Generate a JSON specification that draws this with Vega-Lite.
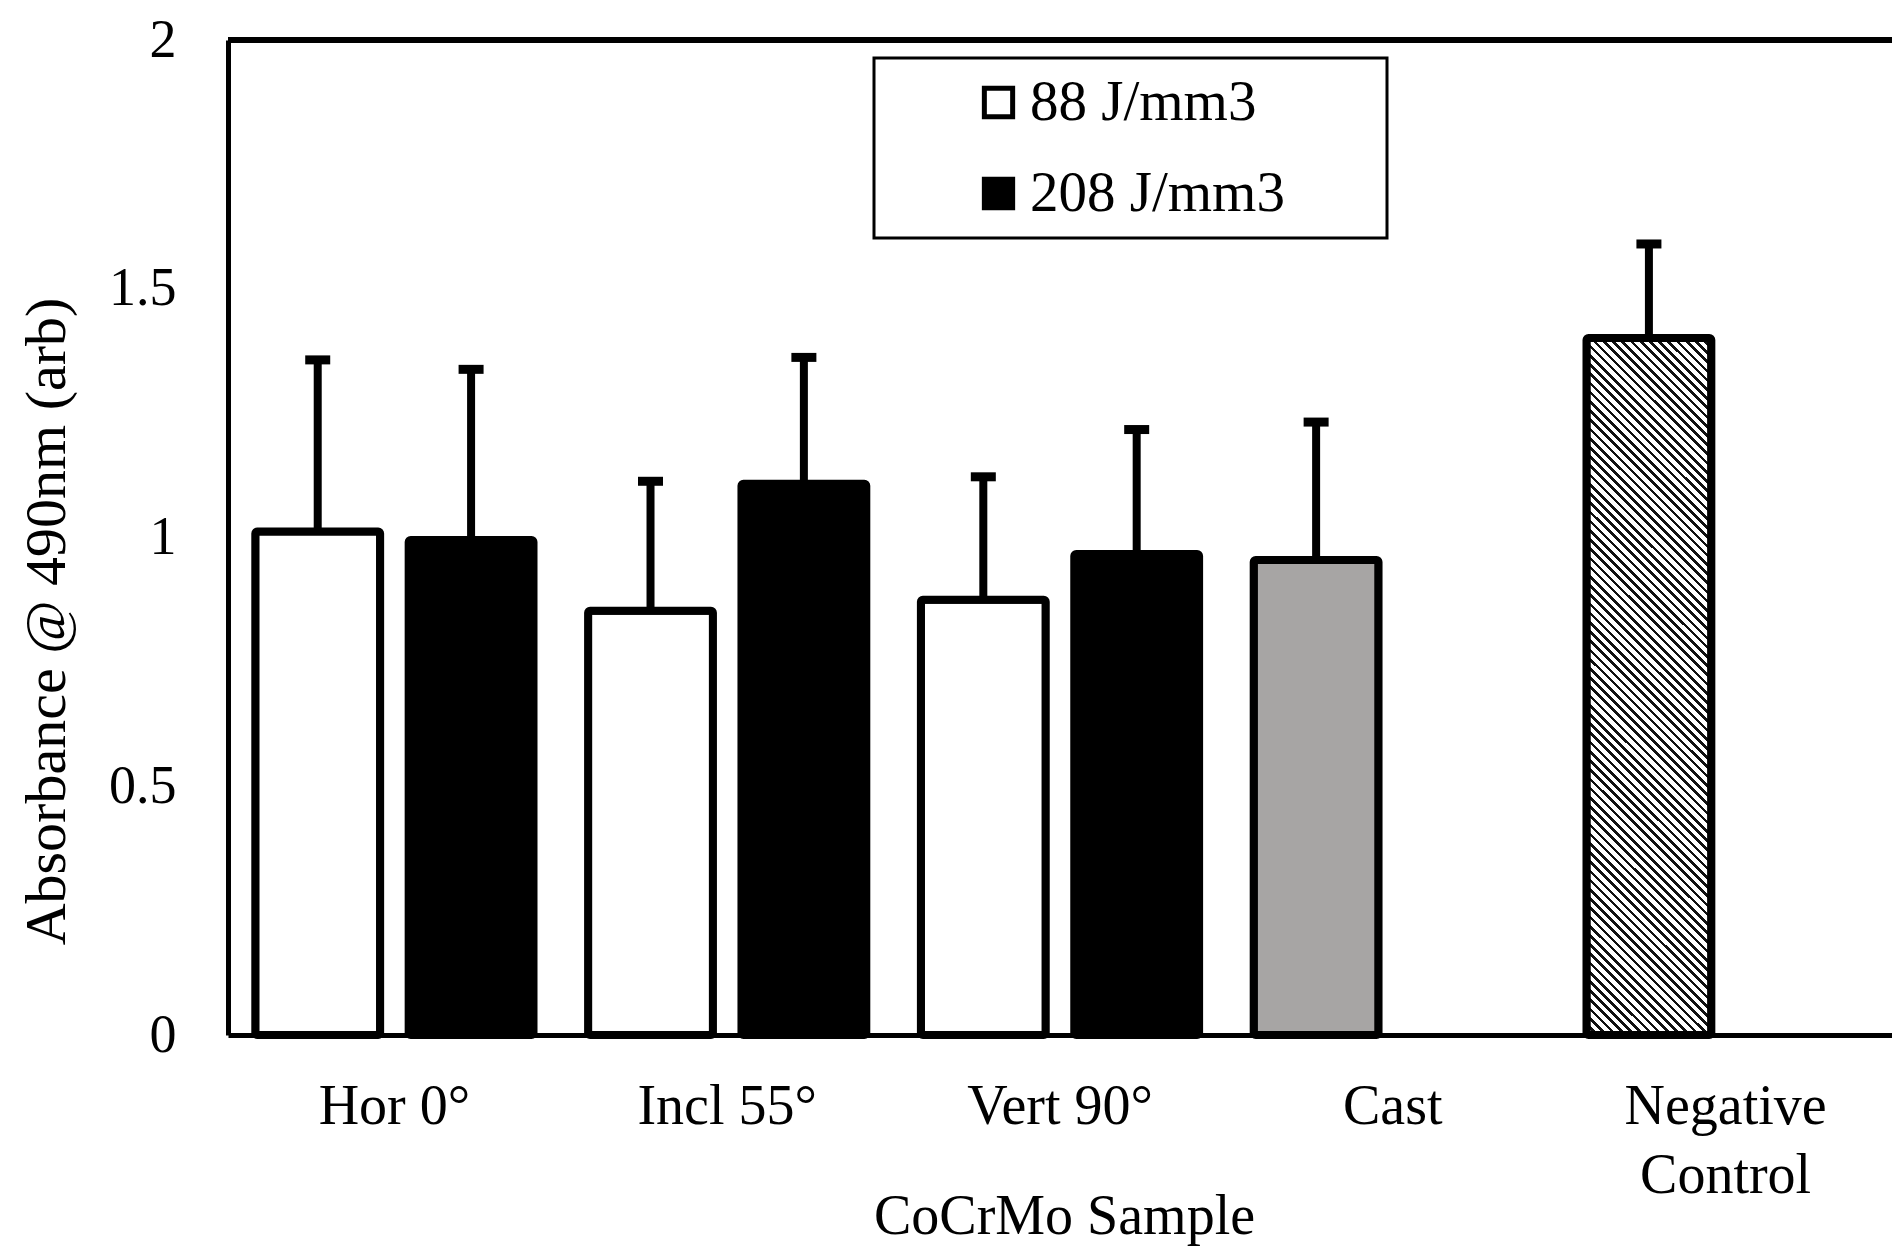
{
  "$schema": "https://vega.github.io/schema/vega-lite/v6.json",
  "autosize": {"type": "none"},
  "padding": {"left": 228, "top": 40, "right": 0, "bottom": 214},
  "width": 1664,
  "height": 995,
  "background": "white",
  "config": {
    "view": {"stroke": null},
    "font": "Liberation Serif",
    "legend": {"strokeWidth": 3}
  },
  "datasets": {
    "bars": [
      {"sample": "Hor 0°", "energy": "88 J/mm3", "slot": "a", "mean": 1.012, "upper": 1.357},
      {"sample": "Hor 0°", "energy": "208 J/mm3", "slot": "b", "mean": 0.995, "upper": 1.338},
      {"sample": "Incl 55°", "energy": "88 J/mm3", "slot": "a", "mean": 0.853, "upper": 1.113},
      {"sample": "Incl 55°", "energy": "208 J/mm3", "slot": "b", "mean": 1.108, "upper": 1.362},
      {"sample": "Vert 90°", "energy": "88 J/mm3", "slot": "a", "mean": 0.875, "upper": 1.122},
      {"sample": "Vert 90°", "energy": "208 J/mm3", "slot": "b", "mean": 0.967, "upper": 1.217},
      {"sample": "Cast", "energy": "Cast", "slot": "a", "mean": 0.955, "upper": 1.232},
      {"sample": "Negative Control", "energy": "Negative", "slot": "a", "mean": 1.401, "upper": 1.59}
    ]
  },
  "data": {"name": "bars"},
  "layer": [
    {
      "transform": [{"filter": {"field": "energy", "oneOf": ["88 J/mm3", "208 J/mm3"]}}],
      "mark": {"type": "bar", "stroke": "black", "strokeWidth": 8, "cornerRadius": 2},
      "encoding": {
        "x": {"field": "sample", "type": "nominal", "sort": ["Hor 0°", "Incl 55°", "Vert 90°", "Cast", "Negative Control"],
          "scale": {"domain": ["Hor 0°", "Incl 55°", "Vert 90°", "Cast", "Negative Control"], "paddingInner": 0, "paddingOuter": 0},
          "axis": {"title": "CoCrMo Sample", "labelAngle": 0, "ticks": false, "tickSize": 0, "domain": true, "domainColor": "black", "domainWidth": 5,
            "labelFont": "Liberation Serif", "labelFontSize": 56, "labelColor": "black", "labelBaseline": "alphabetic", "labelPadding": 88,
            "labelLineHeight": 69, "labelLimit": 600, "labelOverlap": false,
            "labelExpr": "datum.value == 'Negative Control' ? ['Negative', 'Control'] : datum.value",
            "titleFont": "Liberation Serif", "titleFontSize": 56, "titleFontWeight": "normal", "titleColor": "black",
            "titleBaseline": "alphabetic", "titleY": 198, "titleX": 836}},
        "xOffset": {"field": "slot", "type": "nominal", "scale": {"domain": ["a", "b"], "paddingInner": 0.186, "paddingOuter": 0.178}},
        "y": {"field": "mean", "type": "quantitative", "scale": {"domain": [0, 2], "nice": false, "zero": true},
          "axis": {"title": "Absorbance @ 490nm (arb)", "values": [0, 0.5, 1, 1.5, 2], "format": "~g", "grid": false, "ticks": false, "tickSize": 0,
            "domain": true, "domainColor": "black", "domainWidth": 5, "labelFont": "Liberation Serif", "labelFontSize": 54, "labelColor": "black",
            "labelPadding": 52, "labelOverlap": false, "labelFlush": false,
            "titleFont": "Liberation Serif", "titleFontSize": 58, "titleFontWeight": "normal", "titleColor": "black",
            "titleAngle": -90, "titleAlign": "center", "titleBaseline": "alphabetic", "titleX": -164, "titleY": 581}},
        "fill": {"field": "energy", "type": "nominal", "scale": {"domain": ["88 J/mm3", "208 J/mm3"], "range": ["white", "black"]},
          "legend": {"title": null, "orient": "none", "legendX": 646, "legendY": 18, "strokeColor": "black", "padding": 16,
            "symbolType": "square", "symbolSize": 800, "symbolStrokeColor": "black", "symbolStrokeWidth": 5, "symbolOffset": 80,
            "labelOffset": 3, "labelFont": "Liberation Serif", "labelFontSize": 57, "labelColor": "black", "labelLimit": 900,
            "rowPadding": 33, "labelExpr": "datum.label + '\u00a0\u00a0\u00a0\u00a0\u00a0\u00a0\u200b'"}}
      }
    },
    {
      "transform": [{"filter": {"field": "energy", "equal": "Cast"}}],
      "mark": {"type": "bar", "stroke": "black", "strokeWidth": 8, "cornerRadius": 2, "fill": "#a7a5a4"},
      "encoding": {
        "x": {"field": "sample", "type": "nominal"},
        "xOffset": {"field": "slot", "type": "nominal"},
        "y": {"field": "mean", "type": "quantitative"}
      }
    },
    {
      "transform": [{"filter": {"field": "energy", "equal": "Negative"}}],
      "mark": {"type": "bar", "stroke": "black", "strokeWidth": 8, "cornerRadius": 2,
        "fill": {"gradient": "linear", "x1": 0, "y1": 1, "x2": 0.229, "y2": -0.28, "stops": [
{"offset":0,"color":"#111"},{"offset":0.004,"color":"#111"},{"offset":0.004,"color":"#fff"},{"offset":0.01,"color":"#fff"},
{"offset":0.01,"color":"#111"},{"offset":0.014,"color":"#111"},{"offset":0.014,"color":"#fff"},{"offset":0.02,"color":"#fff"},
{"offset":0.02,"color":"#111"},{"offset":0.024,"color":"#111"},{"offset":0.024,"color":"#fff"},{"offset":0.03,"color":"#fff"},
{"offset":0.03,"color":"#111"},{"offset":0.034,"color":"#111"},{"offset":0.034,"color":"#fff"},{"offset":0.04,"color":"#fff"},
{"offset":0.04,"color":"#111"},{"offset":0.044,"color":"#111"},{"offset":0.044,"color":"#fff"},{"offset":0.05,"color":"#fff"},
{"offset":0.05,"color":"#111"},{"offset":0.054,"color":"#111"},{"offset":0.054,"color":"#fff"},{"offset":0.06,"color":"#fff"},
{"offset":0.06,"color":"#111"},{"offset":0.064,"color":"#111"},{"offset":0.064,"color":"#fff"},{"offset":0.07,"color":"#fff"},
{"offset":0.07,"color":"#111"},{"offset":0.074,"color":"#111"},{"offset":0.074,"color":"#fff"},{"offset":0.08,"color":"#fff"},
{"offset":0.08,"color":"#111"},{"offset":0.084,"color":"#111"},{"offset":0.084,"color":"#fff"},{"offset":0.09,"color":"#fff"},
{"offset":0.09,"color":"#111"},{"offset":0.094,"color":"#111"},{"offset":0.094,"color":"#fff"},{"offset":0.1,"color":"#fff"},
{"offset":0.1,"color":"#111"},{"offset":0.104,"color":"#111"},{"offset":0.104,"color":"#fff"},{"offset":0.11,"color":"#fff"},
{"offset":0.11,"color":"#111"},{"offset":0.114,"color":"#111"},{"offset":0.114,"color":"#fff"},{"offset":0.12,"color":"#fff"},
{"offset":0.12,"color":"#111"},{"offset":0.124,"color":"#111"},{"offset":0.124,"color":"#fff"},{"offset":0.13,"color":"#fff"},
{"offset":0.13,"color":"#111"},{"offset":0.134,"color":"#111"},{"offset":0.134,"color":"#fff"},{"offset":0.14,"color":"#fff"},
{"offset":0.14,"color":"#111"},{"offset":0.144,"color":"#111"},{"offset":0.144,"color":"#fff"},{"offset":0.15,"color":"#fff"},
{"offset":0.15,"color":"#111"},{"offset":0.154,"color":"#111"},{"offset":0.154,"color":"#fff"},{"offset":0.16,"color":"#fff"},
{"offset":0.16,"color":"#111"},{"offset":0.164,"color":"#111"},{"offset":0.164,"color":"#fff"},{"offset":0.17,"color":"#fff"},
{"offset":0.17,"color":"#111"},{"offset":0.174,"color":"#111"},{"offset":0.174,"color":"#fff"},{"offset":0.18,"color":"#fff"},
{"offset":0.18,"color":"#111"},{"offset":0.184,"color":"#111"},{"offset":0.184,"color":"#fff"},{"offset":0.19,"color":"#fff"},
{"offset":0.19,"color":"#111"},{"offset":0.194,"color":"#111"},{"offset":0.194,"color":"#fff"},{"offset":0.2,"color":"#fff"},
{"offset":0.2,"color":"#111"},{"offset":0.204,"color":"#111"},{"offset":0.204,"color":"#fff"},{"offset":0.21,"color":"#fff"},
{"offset":0.21,"color":"#111"},{"offset":0.214,"color":"#111"},{"offset":0.214,"color":"#fff"},{"offset":0.22,"color":"#fff"},
{"offset":0.22,"color":"#111"},{"offset":0.224,"color":"#111"},{"offset":0.224,"color":"#fff"},{"offset":0.23,"color":"#fff"},
{"offset":0.23,"color":"#111"},{"offset":0.234,"color":"#111"},{"offset":0.234,"color":"#fff"},{"offset":0.24,"color":"#fff"},
{"offset":0.24,"color":"#111"},{"offset":0.244,"color":"#111"},{"offset":0.244,"color":"#fff"},{"offset":0.25,"color":"#fff"},
{"offset":0.25,"color":"#111"},{"offset":0.254,"color":"#111"},{"offset":0.254,"color":"#fff"},{"offset":0.26,"color":"#fff"},
{"offset":0.26,"color":"#111"},{"offset":0.264,"color":"#111"},{"offset":0.264,"color":"#fff"},{"offset":0.27,"color":"#fff"},
{"offset":0.27,"color":"#111"},{"offset":0.274,"color":"#111"},{"offset":0.274,"color":"#fff"},{"offset":0.28,"color":"#fff"},
{"offset":0.28,"color":"#111"},{"offset":0.284,"color":"#111"},{"offset":0.284,"color":"#fff"},{"offset":0.29,"color":"#fff"},
{"offset":0.29,"color":"#111"},{"offset":0.294,"color":"#111"},{"offset":0.294,"color":"#fff"},{"offset":0.3,"color":"#fff"},
{"offset":0.3,"color":"#111"},{"offset":0.304,"color":"#111"},{"offset":0.304,"color":"#fff"},{"offset":0.31,"color":"#fff"},
{"offset":0.31,"color":"#111"},{"offset":0.314,"color":"#111"},{"offset":0.314,"color":"#fff"},{"offset":0.32,"color":"#fff"},
{"offset":0.32,"color":"#111"},{"offset":0.324,"color":"#111"},{"offset":0.324,"color":"#fff"},{"offset":0.33,"color":"#fff"},
{"offset":0.33,"color":"#111"},{"offset":0.334,"color":"#111"},{"offset":0.334,"color":"#fff"},{"offset":0.34,"color":"#fff"},
{"offset":0.34,"color":"#111"},{"offset":0.344,"color":"#111"},{"offset":0.344,"color":"#fff"},{"offset":0.35,"color":"#fff"},
{"offset":0.35,"color":"#111"},{"offset":0.354,"color":"#111"},{"offset":0.354,"color":"#fff"},{"offset":0.36,"color":"#fff"},
{"offset":0.36,"color":"#111"},{"offset":0.364,"color":"#111"},{"offset":0.364,"color":"#fff"},{"offset":0.37,"color":"#fff"},
{"offset":0.37,"color":"#111"},{"offset":0.374,"color":"#111"},{"offset":0.374,"color":"#fff"},{"offset":0.38,"color":"#fff"},
{"offset":0.38,"color":"#111"},{"offset":0.384,"color":"#111"},{"offset":0.384,"color":"#fff"},{"offset":0.39,"color":"#fff"},
{"offset":0.39,"color":"#111"},{"offset":0.394,"color":"#111"},{"offset":0.394,"color":"#fff"},{"offset":0.4,"color":"#fff"},
{"offset":0.4,"color":"#111"},{"offset":0.404,"color":"#111"},{"offset":0.404,"color":"#fff"},{"offset":0.41,"color":"#fff"},
{"offset":0.41,"color":"#111"},{"offset":0.414,"color":"#111"},{"offset":0.414,"color":"#fff"},{"offset":0.42,"color":"#fff"},
{"offset":0.42,"color":"#111"},{"offset":0.424,"color":"#111"},{"offset":0.424,"color":"#fff"},{"offset":0.43,"color":"#fff"},
{"offset":0.43,"color":"#111"},{"offset":0.434,"color":"#111"},{"offset":0.434,"color":"#fff"},{"offset":0.44,"color":"#fff"},
{"offset":0.44,"color":"#111"},{"offset":0.444,"color":"#111"},{"offset":0.444,"color":"#fff"},{"offset":0.45,"color":"#fff"},
{"offset":0.45,"color":"#111"},{"offset":0.454,"color":"#111"},{"offset":0.454,"color":"#fff"},{"offset":0.46,"color":"#fff"},
{"offset":0.46,"color":"#111"},{"offset":0.464,"color":"#111"},{"offset":0.464,"color":"#fff"},{"offset":0.47,"color":"#fff"},
{"offset":0.47,"color":"#111"},{"offset":0.474,"color":"#111"},{"offset":0.474,"color":"#fff"},{"offset":0.48,"color":"#fff"},
{"offset":0.48,"color":"#111"},{"offset":0.484,"color":"#111"},{"offset":0.484,"color":"#fff"},{"offset":0.49,"color":"#fff"},
{"offset":0.49,"color":"#111"},{"offset":0.494,"color":"#111"},{"offset":0.494,"color":"#fff"},{"offset":0.5,"color":"#fff"},
{"offset":0.5,"color":"#111"},{"offset":0.504,"color":"#111"},{"offset":0.504,"color":"#fff"},{"offset":0.51,"color":"#fff"},
{"offset":0.51,"color":"#111"},{"offset":0.514,"color":"#111"},{"offset":0.514,"color":"#fff"},{"offset":0.52,"color":"#fff"},
{"offset":0.52,"color":"#111"},{"offset":0.524,"color":"#111"},{"offset":0.524,"color":"#fff"},{"offset":0.53,"color":"#fff"},
{"offset":0.53,"color":"#111"},{"offset":0.534,"color":"#111"},{"offset":0.534,"color":"#fff"},{"offset":0.54,"color":"#fff"},
{"offset":0.54,"color":"#111"},{"offset":0.544,"color":"#111"},{"offset":0.544,"color":"#fff"},{"offset":0.55,"color":"#fff"},
{"offset":0.55,"color":"#111"},{"offset":0.554,"color":"#111"},{"offset":0.554,"color":"#fff"},{"offset":0.56,"color":"#fff"},
{"offset":0.56,"color":"#111"},{"offset":0.564,"color":"#111"},{"offset":0.564,"color":"#fff"},{"offset":0.57,"color":"#fff"},
{"offset":0.57,"color":"#111"},{"offset":0.574,"color":"#111"},{"offset":0.574,"color":"#fff"},{"offset":0.58,"color":"#fff"},
{"offset":0.58,"color":"#111"},{"offset":0.584,"color":"#111"},{"offset":0.584,"color":"#fff"},{"offset":0.59,"color":"#fff"},
{"offset":0.59,"color":"#111"},{"offset":0.594,"color":"#111"},{"offset":0.594,"color":"#fff"},{"offset":0.6,"color":"#fff"},
{"offset":0.6,"color":"#111"},{"offset":0.604,"color":"#111"},{"offset":0.604,"color":"#fff"},{"offset":0.61,"color":"#fff"},
{"offset":0.61,"color":"#111"},{"offset":0.614,"color":"#111"},{"offset":0.614,"color":"#fff"},{"offset":0.62,"color":"#fff"},
{"offset":0.62,"color":"#111"},{"offset":0.624,"color":"#111"},{"offset":0.624,"color":"#fff"},{"offset":0.63,"color":"#fff"},
{"offset":0.63,"color":"#111"},{"offset":0.634,"color":"#111"},{"offset":0.634,"color":"#fff"},{"offset":0.64,"color":"#fff"},
{"offset":0.64,"color":"#111"},{"offset":0.644,"color":"#111"},{"offset":0.644,"color":"#fff"},{"offset":0.65,"color":"#fff"},
{"offset":0.65,"color":"#111"},{"offset":0.654,"color":"#111"},{"offset":0.654,"color":"#fff"},{"offset":0.66,"color":"#fff"},
{"offset":0.66,"color":"#111"},{"offset":0.664,"color":"#111"},{"offset":0.664,"color":"#fff"},{"offset":0.67,"color":"#fff"},
{"offset":0.67,"color":"#111"},{"offset":0.674,"color":"#111"},{"offset":0.674,"color":"#fff"},{"offset":0.68,"color":"#fff"},
{"offset":0.68,"color":"#111"},{"offset":0.684,"color":"#111"},{"offset":0.684,"color":"#fff"},{"offset":0.69,"color":"#fff"},
{"offset":0.69,"color":"#111"},{"offset":0.694,"color":"#111"},{"offset":0.694,"color":"#fff"},{"offset":0.7,"color":"#fff"},
{"offset":0.7,"color":"#111"},{"offset":0.704,"color":"#111"},{"offset":0.704,"color":"#fff"},{"offset":0.71,"color":"#fff"},
{"offset":0.71,"color":"#111"},{"offset":0.714,"color":"#111"},{"offset":0.714,"color":"#fff"},{"offset":0.72,"color":"#fff"},
{"offset":0.72,"color":"#111"},{"offset":0.724,"color":"#111"},{"offset":0.724,"color":"#fff"},{"offset":0.73,"color":"#fff"},
{"offset":0.73,"color":"#111"},{"offset":0.734,"color":"#111"},{"offset":0.734,"color":"#fff"},{"offset":0.74,"color":"#fff"},
{"offset":0.74,"color":"#111"},{"offset":0.744,"color":"#111"},{"offset":0.744,"color":"#fff"},{"offset":0.75,"color":"#fff"},
{"offset":0.75,"color":"#111"},{"offset":0.754,"color":"#111"},{"offset":0.754,"color":"#fff"},{"offset":0.76,"color":"#fff"},
{"offset":0.76,"color":"#111"},{"offset":0.764,"color":"#111"},{"offset":0.764,"color":"#fff"},{"offset":0.77,"color":"#fff"},
{"offset":0.77,"color":"#111"},{"offset":0.774,"color":"#111"},{"offset":0.774,"color":"#fff"},{"offset":0.78,"color":"#fff"},
{"offset":0.78,"color":"#111"},{"offset":0.784,"color":"#111"},{"offset":0.784,"color":"#fff"},{"offset":0.79,"color":"#fff"},
{"offset":0.79,"color":"#111"},{"offset":0.794,"color":"#111"},{"offset":0.794,"color":"#fff"},{"offset":0.8,"color":"#fff"},
{"offset":0.8,"color":"#111"},{"offset":0.804,"color":"#111"},{"offset":0.804,"color":"#fff"},{"offset":0.81,"color":"#fff"},
{"offset":0.81,"color":"#111"},{"offset":0.814,"color":"#111"},{"offset":0.814,"color":"#fff"},{"offset":0.82,"color":"#fff"},
{"offset":0.82,"color":"#111"},{"offset":0.824,"color":"#111"},{"offset":0.824,"color":"#fff"},{"offset":0.83,"color":"#fff"},
{"offset":0.83,"color":"#111"},{"offset":0.834,"color":"#111"},{"offset":0.834,"color":"#fff"},{"offset":0.84,"color":"#fff"},
{"offset":0.84,"color":"#111"},{"offset":0.844,"color":"#111"},{"offset":0.844,"color":"#fff"},{"offset":0.85,"color":"#fff"},
{"offset":0.85,"color":"#111"},{"offset":0.854,"color":"#111"},{"offset":0.854,"color":"#fff"},{"offset":0.86,"color":"#fff"},
{"offset":0.86,"color":"#111"},{"offset":0.864,"color":"#111"},{"offset":0.864,"color":"#fff"},{"offset":0.87,"color":"#fff"},
{"offset":0.87,"color":"#111"},{"offset":0.874,"color":"#111"},{"offset":0.874,"color":"#fff"},{"offset":0.88,"color":"#fff"},
{"offset":0.88,"color":"#111"},{"offset":0.884,"color":"#111"},{"offset":0.884,"color":"#fff"},{"offset":0.89,"color":"#fff"},
{"offset":0.89,"color":"#111"},{"offset":0.894,"color":"#111"},{"offset":0.894,"color":"#fff"},{"offset":0.9,"color":"#fff"},
{"offset":0.9,"color":"#111"},{"offset":0.904,"color":"#111"},{"offset":0.904,"color":"#fff"},{"offset":1,"color":"#fff"}
        ]}},
      "encoding": {
        "x": {"field": "sample", "type": "nominal"},
        "xOffset": {"field": "slot", "type": "nominal"},
        "y": {"field": "mean", "type": "quantitative"}
      }
    },
    {
      "mark": {"type": "rule", "color": "black", "strokeWidth": 8},
      "encoding": {
        "x": {"field": "sample", "type": "nominal"},
        "xOffset": {"field": "slot", "type": "nominal"},
        "y": {"field": "mean", "type": "quantitative"},
        "y2": {"field": "upper"}
      }
    },
    {
      "mark": {"type": "tick", "color": "black", "size": 25, "thickness": 9, "opacity": 1},
      "encoding": {
        "x": {"field": "sample", "type": "nominal"},
        "xOffset": {"field": "slot", "type": "nominal"},
        "y": {"field": "upper", "type": "quantitative"}
      }
    },
    {
      "mark": {"type": "rule", "color": "black", "strokeWidth": 5},
      "encoding": {
        "y": {"datum": 2, "type": "quantitative"}
      }
    }
  ]
}
